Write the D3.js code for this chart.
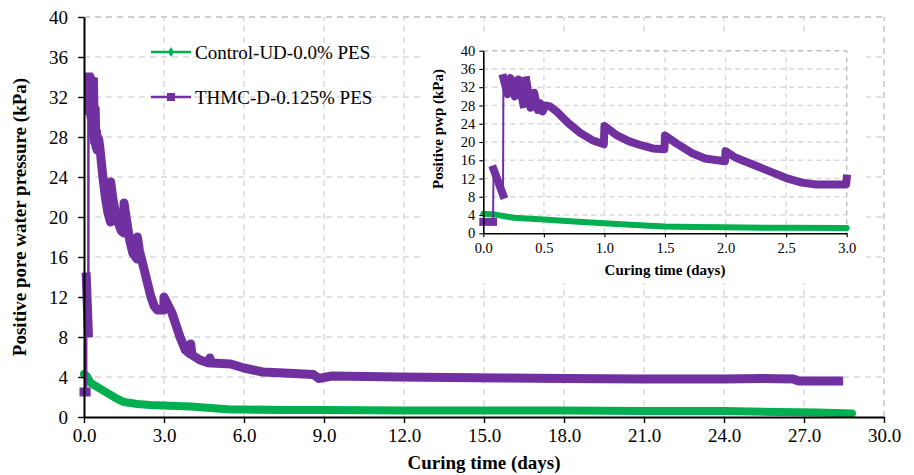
<!DOCTYPE html>
<html>
<head>
<meta charset="utf-8">
<script src="https://cdn.jsdelivr.net/npm/d3@7"></script>
<style>
  html, body { margin: 0; padding: 0; background: #fff; }
  svg { display: block; }
  text { font-family: "Liberation Serif", "Times New Roman", serif; fill: #000; }
</style>
</head>
<body>
<svg id="chart" width="914" height="475"></svg>
<script>
// ---------------- data ----------------
const seriesNames = ["Control-UD-0.0% PES", "THMC-D-0.125% PES"];

const controlDays = [0, 0.1, 0.25, 0.5, 0.75, 1.0, 1.25, 1.5, 1.75, 2.0, 2.5, 3.0, 3.5, 4.0, 4.5, 5.0, 5.5, 6.0, 7.5, 9.0, 12.0, 15.0, 18.0, 21.0, 24.0, 26.0, 27.5, 28.8];
const controlPwp  = [4.3, 4.1, 3.4, 3.0, 2.6, 2.2, 1.8, 1.5, 1.4, 1.3, 1.2, 1.15, 1.1, 1.05, 0.95, 0.85, 0.75, 0.75, 0.7, 0.7, 0.65, 0.65, 0.65, 0.6, 0.6, 0.5, 0.45, 0.35];

const thmcDays = [0, 0.08, 0.085, 0.163, 0.166, 0.2, 0.225, 0.26, 0.29, 0.33, 0.355, 0.39, 0.42, 0.45, 0.47, 0.49, 0.51, 0.55, 0.6, 0.7, 0.8, 0.9, 0.995,
  1.0, 1.1, 1.2, 1.3, 1.4, 1.495, 1.5, 1.6, 1.72, 1.83, 1.995, 2.0, 2.08, 2.25, 2.38, 2.5, 2.63, 2.75, 2.995, 3.0,
  3.3, 3.6, 3.8, 3.97, 4.0, 4.05, 4.35, 4.68, 4.72, 4.78, 5.5, 6.0, 6.7, 7.5, 8.6, 8.8, 9.3, 11.8, 15.6, 18.0, 21.0, 24.0, 25.4, 26.6, 26.8, 28.3];
const thmcPwp  = [2.5, 2.5, 14, 8.4, 34, 30.5, 34, 30, 33.7, 28.3, 33.5, 27.5, 30.8, 27, 28.5, 26.7, 28, 27.8, 26.8, 24.2, 22, 20.4, 19.5,
  23.5, 21.5, 20.2, 19.3, 18.6, 18.4, 21.4, 19.6, 17.6, 16.4, 15.8, 18, 16.6, 14.8, 13.4, 12.1, 11.1, 10.7, 10.7, 12,
  10.4, 8.0, 6.7, 6.3, 7.3, 6.2, 5.7, 5.4, 5.9, 5.4, 5.3, 4.9, 4.5, 4.4, 4.25, 3.85, 4.1, 4.0, 3.9, 3.85, 3.8, 3.8, 3.85, 3.8, 3.6, 3.6];

const mainXTicks = [0, 3, 6, 9, 12, 15, 18, 21, 24, 27, 30];
const mainYTicks = [0, 4, 8, 12, 16, 20, 24, 28, 32, 36, 40];
const insetXTicks = [0, 0.5, 1.0, 1.5, 2.0, 2.5, 3.0];
const insetYTicks = [0, 4, 8, 12, 16, 20, 24, 28, 32, 36, 40];

const xTitle = "Curing time (days)";
const yTitle = "Positive pore water pressure (kPa)";
const insetYTitle = "Positive pwp (kPa)";

// ---------------- setup ----------------
const SERIF = '"Liberation Serif", "Times New Roman", serif';
const GREEN = "#00B050", PURPLE = "#7030A0";
const GRID = "#d9d9d9", BORDER = "#bfbfbf";
const svg = d3.select("#chart");

const control = controlDays.map((d, i) => [d, controlPwp[i]]);
const thmc = thmcDays.map((d, i) => [d, thmcPwp[i]]);

// split a series into runs where it does not jump sharply upward (sparse samples drawn thin)
function runs(pts) {
  const out = []; let cur = [pts[0]];
  for (let i = 1; i < pts.length; i++) {
    if (pts[i][1] - pts[i - 1][1] > 5) { out.push(cur); cur = [pts[i]]; }
    else cur.push(pts[i]);
  }
  out.push(cur);
  return out;
}

function drawPanel(g, x, y, xTicks, yTicks, opts) {
  const [x0, x1] = x.range(), [y0, y1] = y.range();
  // grid
  g.append("g").selectAll("line").data(yTicks.filter(d => d > 0)).join("line")
    .attr("x1", x0).attr("x2", x1).attr("y1", d => y(d)).attr("y2", d => y(d))
    .attr("stroke", d => d === yTicks[yTicks.length - 1] ? BORDER : GRID)
    .attr("stroke-width", 1.4).attr("stroke-dasharray", opts.dash);
  g.append("g").selectAll("line").data(xTicks.filter(d => d > 0)).join("line")
    .attr("y1", y0).attr("y2", y1).attr("x1", d => x(d)).attr("x2", d => x(d))
    .attr("stroke", d => d === xTicks[xTicks.length - 1] ? BORDER : GRID)
    .attr("stroke-width", 1.4).attr("stroke-dasharray", opts.dash);

  const line = d3.line().x(d => x(d[0])).y(d => y(d[1]));
  const xmax = x.domain()[1];
  const c = control.filter(d => d[0] <= xmax);
  const t = thmc.filter(d => d[0] <= xmax);

  // control series
  g.append("path").attr("d", line(c)).attr("fill", "none").attr("stroke", GREEN)
    .attr("stroke-width", opts.gw).attr("stroke-linejoin", "round").attr("stroke-linecap", "round");

  // THMC series: thin connecting line plus thick marker band
  g.append("path").attr("d", line(t)).attr("fill", "none").attr("stroke", PURPLE)
    .attr("stroke-width", opts.thin);
  runs(t).forEach(r => {
    g.append("path").attr("d", line(r.length > 1 ? r : [r[0], r[0]])).attr("fill", "none")
      .attr("stroke", PURPLE).attr("stroke-width", opts.pw)
      .attr("stroke-linejoin", "round").attr("stroke-linecap", "square");
  });

  // axes
  const ax = g.append("g").attr("transform", `translate(0,${y0})`)
    .call(d3.axisBottom(x).tickValues(xTicks).tickFormat(d3.format(".1f")).tickSize(opts.tick).tickSizeOuter(0).tickPadding(opts.xpad));
  const ay = g.append("g").attr("transform", `translate(${x0},0)`)
    .call(d3.axisLeft(y).tickValues(yTicks).tickFormat(d => d).tickSize(opts.tick).tickSizeOuter(0).tickPadding(opts.ypad));
  [ax, ay].forEach(a => {
    a.attr("font-family", SERIF).attr("font-size", opts.fs);
    a.select(".domain").attr("stroke", "#000").attr("stroke-width", opts.axw);
    a.selectAll(".tick line").attr("stroke", "#000").attr("stroke-width", opts.axw * 0.7);
    a.selectAll("text").style("font-family", SERIF).style("font-size", opts.fs + "px").attr("fill", "#000");
  });
}

// ---------------- main chart ----------------
const x = d3.scaleLinear([0, 30], [84, 884]);
const y = d3.scaleLinear([0, 40], [417, 17]);
const gMain = svg.append("g");
drawPanel(gMain, x, y, mainXTicks, mainYTicks, { dash: "6,5", gw: 8, pw: 9, thin: 2.5, tick: 6, xpad: 6, ypad: 10, axw: 2, fs: 19 });

gMain.append("text").attr("x", 484).attr("y", 469).attr("text-anchor", "middle")
  .style("font-size", "19px").style("font-weight", "bold").text(xTitle);
gMain.append("text").attr("transform", "translate(26,217) rotate(-90)").attr("text-anchor", "middle")
  .style("font-size", "19px").style("font-weight", "bold").text(yTitle);

// legend
const legend = gMain.append("g");
const ly = [52, 97];
legend.append("line").attr("x1", 151).attr("x2", 191).attr("y1", ly[0]).attr("y2", ly[0]).attr("stroke", GREEN).attr("stroke-width", 2.5);
legend.append("path").attr("d", d3.symbol(d3.symbolDiamond, 30)()).attr("transform", `translate(171,${ly[0]})`).attr("fill", GREEN);
legend.append("line").attr("x1", 151).attr("x2", 191).attr("y1", ly[1]).attr("y2", ly[1]).attr("stroke", PURPLE).attr("stroke-width", 2.5);
legend.append("rect").attr("x", 167).attr("y", ly[1] - 4).attr("width", 8).attr("height", 8).attr("fill", PURPLE);
seriesNames.forEach((n, i) => legend.append("text").attr("x", 195).attr("y", ly[i]).attr("dy", "0.35em")
  .style("font-size", "19px").text(n));

// ---------------- inset ----------------
const gIn = svg.append("g");
gIn.append("rect").attr("x", 422).attr("y", 34).attr("width", 444).attr("height", 249).attr("fill", "#fff");
const xi = d3.scaleLinear([0, 3], [483.3, 846.7]);
const yi = d3.scaleLinear([0, 40], [233.3, 50.7]);
drawPanel(gIn, xi, yi, insetXTicks, insetYTicks, { dash: "5,4", gw: 6, pw: 8, thin: 2, tick: 4, xpad: 5, ypad: 4, axw: 1.6, fs: 14.5 });
gIn.append("text").attr("x", 665).attr("y", 275).attr("text-anchor", "middle")
  .style("font-size", "15px").style("font-weight", "bold").text(xTitle);
gIn.append("text").attr("transform", "translate(443,129) rotate(-90)").attr("text-anchor", "middle")
  .style("font-size", "15px").style("font-weight", "bold").text(insetYTitle);
</script>
</body>
</html>
